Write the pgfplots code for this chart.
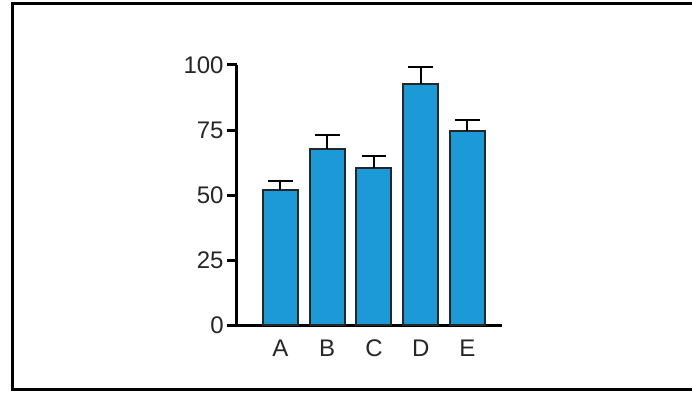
\documentclass[border=0pt]{standalone}
\usepackage{pgfplots}
\pgfplotsset{compat=1.18}
\usepackage{fontspec}
\setmainfont{Liberation Sans}
\definecolor{barblue}{RGB}{28,154,216}

\begin{document}
\begin{tikzpicture}
\useasboundingbox (0,0) rectangle (346pt,197pt);
% outer frame (no right edge in the reference)
\draw[line width=1.5pt] (346pt,195pt) -- (6pt,195pt) -- (6pt,2.25pt) -- (346pt,2.25pt);

\begin{axis}[
    at={(118.5pt,34.35pt)}, anchor=south west,
    scale only axis,
    width=132.5pt, height=130.15pt,
    axis x line=bottom, axis y line=left,
    axis line style={-, line width=1.5pt},
    xmin=-0.93, xmax=4.74,
    ymin=0, ymax=100,
    ytick={0,25,50,75,100},
    xtick={0,1,2,3,4},
    xticklabels={A,B,C,D,E},
    tick align=outside,
    major tick length=5pt,
    ytick style={line width=1.5pt, black},
    xtick style={draw=none},
    tick label style={font=\fontsize{12}{14}\selectfont, text=black!85},
    xticklabel style={inner sep=2pt},
    yticklabel style={inner sep=1.5pt},
    /pgf/number format/assume math mode=true,
    clip=false,
]
\addplot[ybar, bar width=0.75, fill=barblue, draw=black!85, line width=1pt,
    error bars/.cd, y dir=plus, y explicit,
    error bar style={line width=1pt, black},
    error mark options={line width=1pt, black, mark size=6.2pt, rotate=90}]
    coordinates {
    (0,52.0) +- (0,3.4)
    (1,67.7) +- (0,5.4)
    (2,60.3) +- (0,4.7)
    (3,92.6) +- (0,6.5)
    (4,74.6) +- (0,4.3)
};
\end{axis}
\end{tikzpicture}
\end{document}
